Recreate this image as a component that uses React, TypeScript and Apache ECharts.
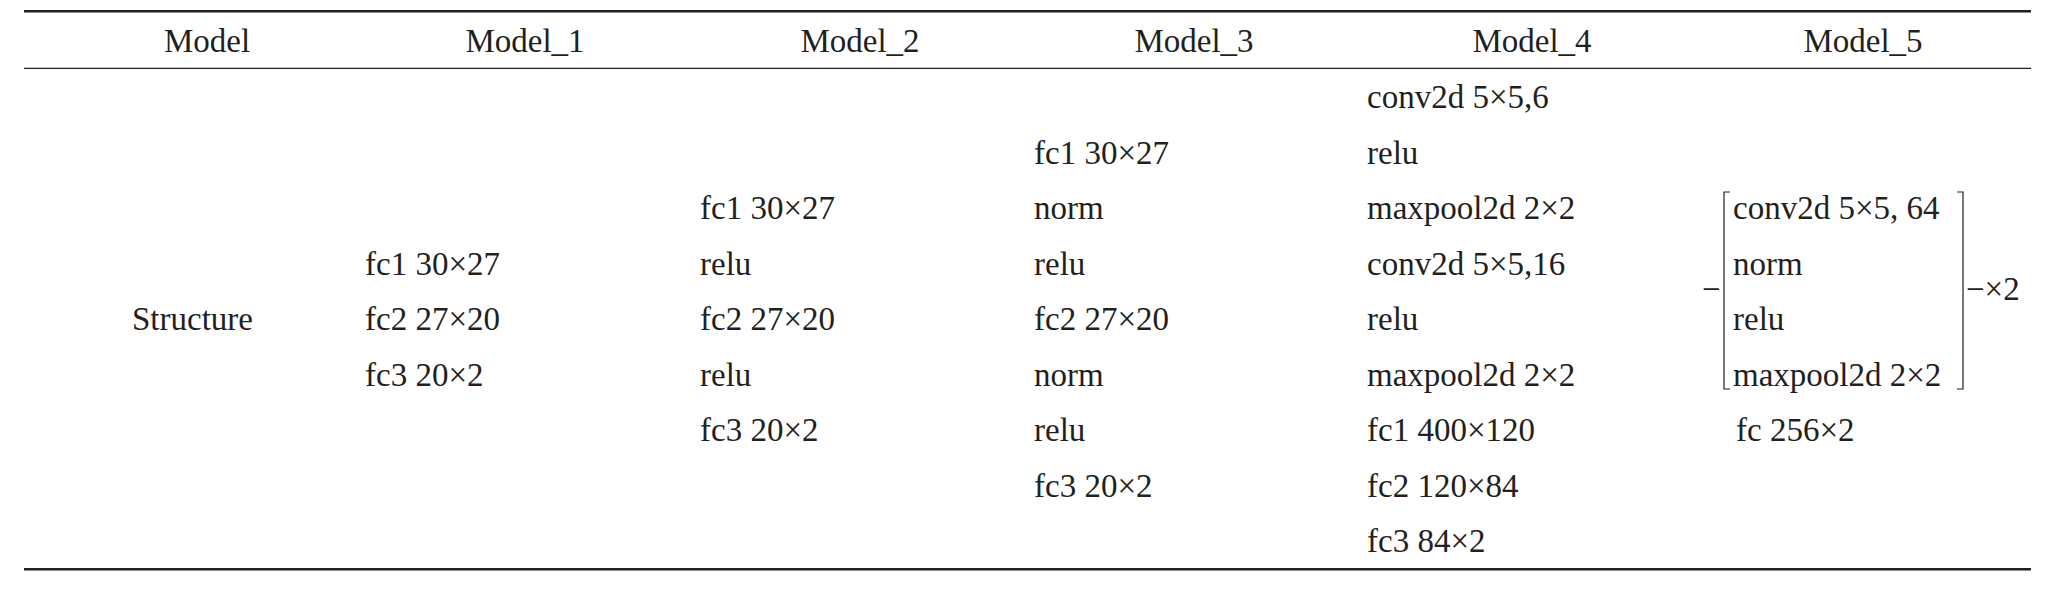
import React, { useEffect, useRef } from 'react';
import * as echarts from 'echarts';

// table content
const headers = ['Model', 'Model_1', 'Model_2', 'Model_3', 'Model_4', 'Model_5'];
const rowLabel = 'Structure';
const model1Layers = ['fc1 30×27', 'fc2 27×20', 'fc3 20×2'];
const model2Layers = ['fc1 30×27', 'relu', 'fc2 27×20', 'relu', 'fc3 20×2'];
const model3Layers = ['fc1 30×27', 'norm', 'relu', 'fc2 27×20', 'norm', 'relu', 'fc3 20×2'];
const model4Layers = [
  'conv2d 5×5,6',
  'relu',
  'maxpool2d 2×2',
  'conv2d 5×5,16',
  'relu',
  'maxpool2d 2×2',
  'fc1 400×120',
  'fc2 120×84',
  'fc3 84×2',
];
const model5Block = ['conv2d 5×5, 64', 'norm', 'relu', 'maxpool2d 2×2'];
const model5Repeat = '−×2';
const model5Tail = ['fc 256×2'];

// layout
const W = 2056;
const H = 589;
const FONT = 'Liberation Serif';
const FS = 33;
const COLOR = '#231f20';
const LEFT = 24;
const RIGHT = 2031;
const headerCenters = [207, 525, 860, 1194, 1532, 1863];
const firstBaseline = 108;
const pitch = 55.5;
const midOffset = 11;

const rowY = (i: number) => firstBaseline + pitch * i - midOffset;

const App: React.FC = () => {
  const chartRef = useRef<HTMLDivElement>(null);

  useEffect(() => {
    if (!chartRef.current) return;
    const chart = echarts.init(chartRef.current, undefined, { renderer: 'svg' });

    const txt = (text: string, x: number, y: number, align: 'left' | 'center' = 'left') => ({
      type: 'text',
      x,
      y,
      style: {
        text,
        fill: COLOR,
        fontSize: FS,
        fontFamily: FONT,
        align,
        verticalAlign: 'middle',
      },
    });

    const rule = (y: number, w: number) => ({
      type: 'line',
      shape: { x1: LEFT, y1: y, x2: RIGHT, y2: y },
      style: { stroke: COLOR, lineWidth: w },
    });

    const column = (lines: string[], x: number, start: number) =>
      lines.map((l, i) => txt(l, x, rowY(start + i)));

    const bTop = 192;
    const bBot = 389;
    const bL = 1724;
    const bR = 1963;

    const elements: any[] = [
      rule(11.3, 2.6),
      rule(68.3, 1.3),
      rule(569.3, 2.6),
      ...headers.map((h, i) => txt(h, headerCenters[i], 52 - midOffset, 'center')),
      txt(rowLabel, 132, rowY(4)),
      ...column(model1Layers, 365, 3),
      ...column(model2Layers, 700, 2),
      ...column(model3Layers, 1034, 1),
      ...column(model4Layers, 1367, 0),
      ...column(model5Block, 1733, 2),
      ...column(model5Tail, 1736, 6),
      // bracket around the repeated block
      {
        type: 'polyline',
        shape: { points: [[bL + 6, bTop], [bL, bTop], [bL, bBot], [bL + 6, bBot]] },
        style: { stroke: COLOR, lineWidth: 1.2, fill: 'none' },
      },
      {
        type: 'polyline',
        shape: { points: [[bR - 6, bTop], [bR, bTop], [bR, bBot], [bR - 6, bBot]] },
        style: { stroke: COLOR, lineWidth: 1.2, fill: 'none' },
      },
      txt('−', 1702, (bTop + bBot) / 2 - 2),
      txt(model5Repeat, 1966, (bTop + bBot) / 2 - 2),
    ];

    chart.setOption({
      animation: false,
      backgroundColor: '#ffffff',
      graphic: { elements },
    });

    return () => {
      chart.dispose();
    };
  }, []);

  return (
    <div
      ref={chartRef}
      style={{ position: 'fixed', left: 0, top: 0, width: `${W}px`, height: `${H}px` }}
    />
  );
};

export default App;
